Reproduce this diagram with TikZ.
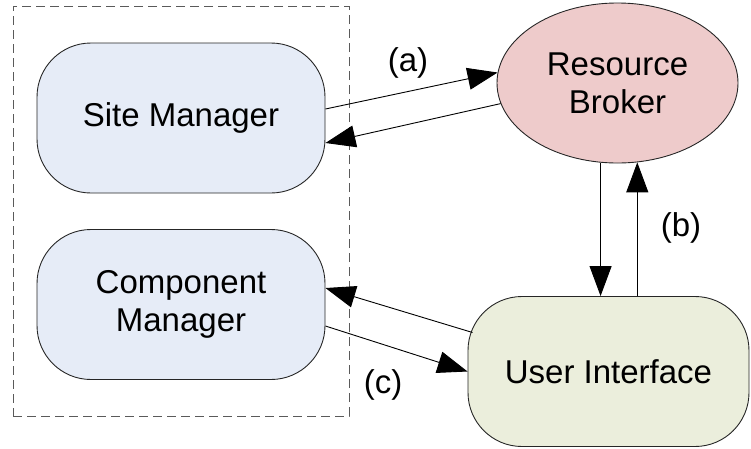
\documentclass[tikz,border=0pt]{standalone}
\usepackage{fontspec}
\setmainfont{Liberation Sans}
\usetikzlibrary{arrows.meta,shapes.geometric}
\definecolor{smblue}{HTML}{E6ECF7}
\definecolor{rbred}{HTML}{EECBCB}
\definecolor{uigreen}{HTML}{EBEEDC}
\definecolor{dashgray}{HTML}{5A5A5A}
\begin{document}
\begin{tikzpicture}[x=1pt,y=-1pt,
  lbl/.style={font=\fontsize{33}{38}\selectfont},
  box/.style={draw=black!85, line width=0.9pt, rounded corners=54pt,
    minimum width=288pt, minimum height=150pt, inner sep=0pt, align=center,
    font=\fontsize{33}{38}\selectfont},
  oval/.style={ellipse, draw=black!85, line width=0.9pt, fill=rbred,
    minimum width=241pt, minimum height=160pt, inner sep=0pt, align=center,
    font=\fontsize{33}{38}\selectfont},
  arr/.style={line width=0.9pt, -{Triangle[length=30pt,width=22pt]}},
  group/.style={draw=dashgray, line width=1pt, dash pattern=on 9pt off 5pt}
]
\useasboundingbox (0,0) rectangle (751,448);
\node[group, minimum width=336pt, minimum height=410pt, inner sep=0pt] (grp) at (181,211) {};
\node[box, fill=smblue] (sm) at (181,118) {Site Manager};
\node[box, fill=smblue] (cm) at (181,304.5) {Component\\Manager};
\node[oval] (rb) at (617.5,83) {Resource\\Broker};
\node[box, fill=uigreen, minimum width=281pt] (ui) at (608.5,371.5) {User Interface};
% (a)
\draw[arr] ([yshift=9pt]sm.east) -- (rb.175);
\draw[arr] (rb.190) -- ([yshift=-25pt]sm.east);
\node[lbl] (la) at (408,63) {(a)};
% (b)
\draw[arr] (rb.258) -- (rb.258 |- ui.north);
\draw[arr] (rb.284 |- ui.north) -- (rb.284);
\node[lbl] (lb) at (681,228) {(b)};
% (c)
\draw[arr] ([xshift=5pt,yshift=39pt]ui.west) -- ([yshift=16.5pt]cm.east);
\draw[arr] ([yshift=-21.5pt]cm.east) -- (ui.west);
\node[lbl] (lc) at (383,385) {(c)};
\end{tikzpicture}
\end{document}
